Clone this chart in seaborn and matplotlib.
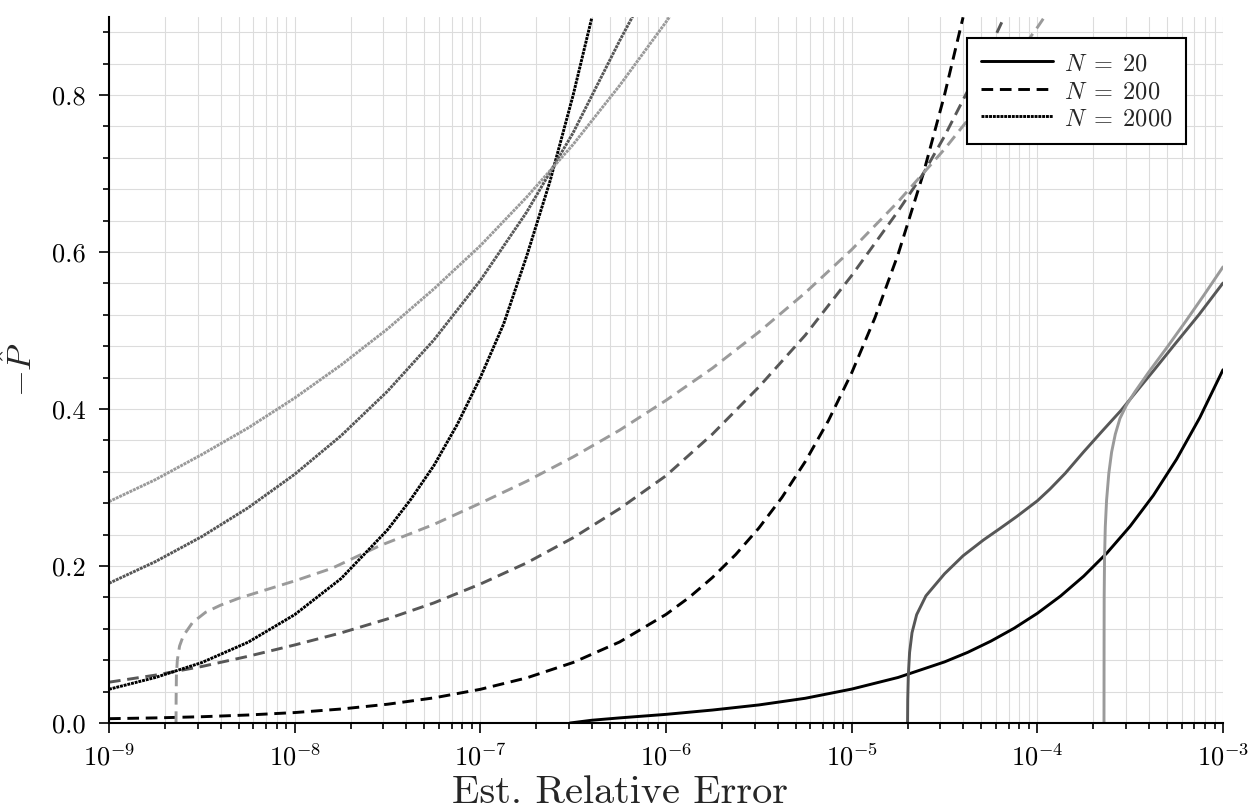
import numpy as np
import pandas as pd
import matplotlib
matplotlib.use("Agg")
import matplotlib.pyplot as plt
from matplotlib.lines import Line2D
from matplotlib.ticker import LogLocator, FixedLocator, MultipleLocator, NullFormatter, FuncFormatter
import seaborn as sns

# ---- data: log10 of estimated relative error vs. -P_hat ----
# N = 20 (solid)
n20_black_lx = [-6.517, -6.4, -6.25, -6.0, -5.75, -5.5, -5.25, -5.0, -4.75, -4.5, -4.375, -4.25, -4.125, -4.0,
                -3.875, -3.75, -3.625, -3.5, -3.375, -3.25, -3.125, -3.0]
n20_black_y = [0.0, 0.0035, 0.0065, 0.011, 0.0165, 0.023, 0.0315, 0.0432, 0.058, 0.0778, 0.090, 0.1043, 0.1207, 0.1397,
               0.1617, 0.1871, 0.2166, 0.2507, 0.290, 0.336, 0.389, 0.45]
n20_dark_lx = [-4.699, -4.698, -4.695, -4.688, -4.675, -4.65, -4.6, -4.5, -4.4, -4.291, -4.2, -4.111, -4.0, -3.932,
               -3.85, -3.752, -3.65, -3.55, -3.474, -3.37, -3.268, -3.13, -3.0]
n20_dark_y = [0.0, 0.03, 0.06, 0.09, 0.115, 0.138, 0.162, 0.19, 0.213, 0.233, 0.248, 0.263, 0.283, 0.298,
              0.318, 0.345, 0.372, 0.398, 0.42, 0.45, 0.48, 0.52, 0.5605]
n20_light_lx = [-3.641, -3.6405, -3.640, -3.638, -3.634, -3.627, -3.615, -3.6, -3.58, -3.555, -3.52, -3.474,
                -3.4, -3.3, -3.2, -3.1, -3.0]
n20_light_y = [0.0, 0.1, 0.16, 0.21, 0.25, 0.284, 0.318, 0.345, 0.368, 0.388, 0.405, 0.422,
               0.447, 0.479, 0.512, 0.546, 0.581]

# N = 200 (dashed)
n200_black_lx = [-9.0, -8.75, -8.5, -8.25, -8.0, -7.75, -7.5, -7.25, -7.0, -6.75, -6.5, -6.25, -6.0, -5.875, -5.75,
                 -5.625, -5.5, -5.375, -5.25, -5.125, -5.0, -4.875, -4.75, -4.614, -4.5, -4.4]
n200_black_y = [0.0055, 0.0065, 0.008, 0.0102, 0.0133, 0.0178, 0.0239, 0.032, 0.0429, 0.0575, 0.0771, 0.1032,
                0.1383, 0.160, 0.1853, 0.2145, 0.2483, 0.2875, 0.333, 0.3853, 0.446, 0.516, 0.597, 0.70, 0.80, 0.899]
n200_dark_lx = [-9.0, -8.75, -8.5, -8.25, -8.0, -7.75, -7.5, -7.25, -7.0, -6.75, -6.5, -6.25, -6.0, -5.75,
                -5.5, -5.25, -5.0, -4.75, -4.614, -4.5, -4.25, -4.183]
n200_dark_y = [0.052, 0.061, 0.072, 0.085, 0.0994, 0.1148, 0.1326, 0.153, 0.177, 0.204, 0.236, 0.273, 0.315, 0.368,
               0.428, 0.494, 0.57, 0.652, 0.70, 0.7475, 0.863, 0.897]
n200_light_lx = [-8.639, -8.6385, -8.637, -8.632, -8.62, -8.6, -8.55, -8.48, -8.4, -8.3, -8.15, -8.0, -7.8,
                 -7.54, -7.25, -7.0, -6.75, -6.5, -6.25, -6.0, -5.75, -5.5, -5.25, -5.0, -4.75, -4.5, -4.25,
                 -4.0, -3.96]
n200_light_y = [0.0, 0.03, 0.06, 0.08, 0.098, 0.111, 0.128, 0.141, 0.150, 0.159, 0.170, 0.181, 0.197,
                0.226, 0.253, 0.280, 0.308, 0.339, 0.373, 0.411, 0.452, 0.498, 0.548, 0.603, 0.664, 0.731, 0.805,
                0.886, 0.90]

# N = 2000 (dotted)
n2000_black_lx = [-9.0, -8.75, -8.5, -8.25, -8.0, -7.75, -7.5, -7.375, -7.25, -7.125, -7.0, -6.875, -6.75, -6.625,
                  -6.5, -6.4]
n2000_black_y = [0.043, 0.058, 0.077, 0.103, 0.138, 0.184, 0.246, 0.2847, 0.328, 0.380, 0.44, 0.508, 0.595, 0.69,
                 0.80, 0.898]
n2000_dark_lx = [-9.0, -8.75, -8.5, -8.25, -8.0, -7.75, -7.5, -7.25, -7.0, -6.75, -6.5, -6.25, -6.18]
n2000_dark_y = [0.178, 0.2056, 0.2375, 0.2743, 0.3168, 0.366, 0.4226, 0.488, 0.5638, 0.651, 0.752, 0.869, 0.90]
n2000_light_lx = [-9.0, -8.75, -8.5, -8.25, -8.0, -7.75, -7.5, -7.25, -7.0, -6.75, -6.5, -6.25, -6.0, -5.98]
n2000_light_y = [0.282, 0.310, 0.342, 0.376, 0.414, 0.456, 0.502, 0.553, 0.608, 0.670, 0.737, 0.812, 0.893, 0.90]

legend_labels = [r"$N \;=\; 20$", r"$N \;=\; 200$", r"$N \;=\; 2000$"]
x_decades = [-9, -8, -7, -6, -5, -4, -3]

# ---- styling ----
sns.set_theme(style="ticks")
plt.rcParams.update({
    "font.family": "serif",
    "font.serif": ["cmr10"],
    "mathtext.fontset": "cm",
    "axes.formatter.use_mathtext": True,
    "axes.unicode_minus": False,
})

shades = {"black": "#000000", "dark": "#575757", "light": "#9a9a9a"}
styles = {
    20: "-",
    200: (0, (4.0, 2.3)),
    2000: (0, (1.0, 0.3)),
}

curves = [
    (20, "black", n20_black_lx, n20_black_y),
    (20, "dark", n20_dark_lx, n20_dark_y),
    (20, "light", n20_light_lx, n20_light_y),
    (200, "black", n200_black_lx, n200_black_y),
    (200, "dark", n200_dark_lx, n200_dark_y),
    (200, "light", n200_light_lx, n200_light_y),
    (2000, "black", n2000_black_lx, n2000_black_y),
    (2000, "dark", n2000_dark_lx, n2000_dark_y),
    (2000, "light", n2000_light_lx, n2000_light_y),
]

fig = plt.figure(figsize=(12.51, 8.11), dpi=100)
ax = fig.add_axes([109 / 1251, 1 - 723 / 811, (1223 - 109) / 1251, (723 - 16.5) / 811])

for n, shade, lx, yv in curves:
    df = pd.DataFrame({"err": 10.0 ** np.asarray(lx), "p": yv})
    sns.lineplot(data=df, x="err", y="p", ax=ax, color=shades[shade],
                 linestyle=styles[n], linewidth=2.1, estimator=None,
                 sort=False, legend=False)

ax.set_xscale("log")
ax.set_xlim(1e-9, 1e-3)
ax.set_ylim(0, 0.9)

ax.xaxis.set_major_locator(FixedLocator(10.0 ** np.array(x_decades)))
ax.xaxis.set_minor_locator(LogLocator(base=10, subs=np.arange(2, 10), numticks=20))
ax.xaxis.set_minor_formatter(NullFormatter())
ax.yaxis.set_major_locator(MultipleLocator(0.2))
ax.yaxis.set_minor_locator(MultipleLocator(0.04))
ax.yaxis.set_major_formatter(FuncFormatter(lambda v, p: f"{v:.1f}"))

ax.grid(True, which="both", color="#dcdcdc", linewidth=0.8)
ax.set_axisbelow(True)

for side in ("top", "right"):
    ax.spines[side].set_visible(False)
for side in ("left", "bottom"):
    ax.spines[side].set_linewidth(1.5)
    ax.spines[side].set_color("black")

ax.tick_params(which="major", direction="out", length=7, width=1.2, labelsize=19, colors="black")
ax.tick_params(which="minor", direction="out", length=4.5, width=1.2, colors="black")
ax.tick_params(axis="y", which="major", pad=10)
ax.tick_params(axis="x", which="major", pad=8)

ax.set_xlabel("Est. Relative Error", fontsize=29, va="baseline")
ax.xaxis.set_label_coords(0.4587, -0.1135)
ax.set_ylabel(r"$-\hat{P}$", fontsize=25)
ax.yaxis.set_label_coords(-0.063, 0.5)

handles = [Line2D([0], [0], color="black", linestyle=styles[n], linewidth=2.1) for n in (20, 200, 2000)]
leg = ax.legend(handles, legend_labels, loc="upper right", bbox_to_anchor=(0.967, 0.97),
                borderaxespad=0, fontsize=17.5, handlelength=3.0, handleheight=1.0,
                handletextpad=0.45, labelspacing=0.15, fancybox=False, framealpha=1,
                edgecolor="black", borderpad=0.55)
leg.get_frame().set_linewidth(1.5)

fig.savefig("out.png", dpi=100)
